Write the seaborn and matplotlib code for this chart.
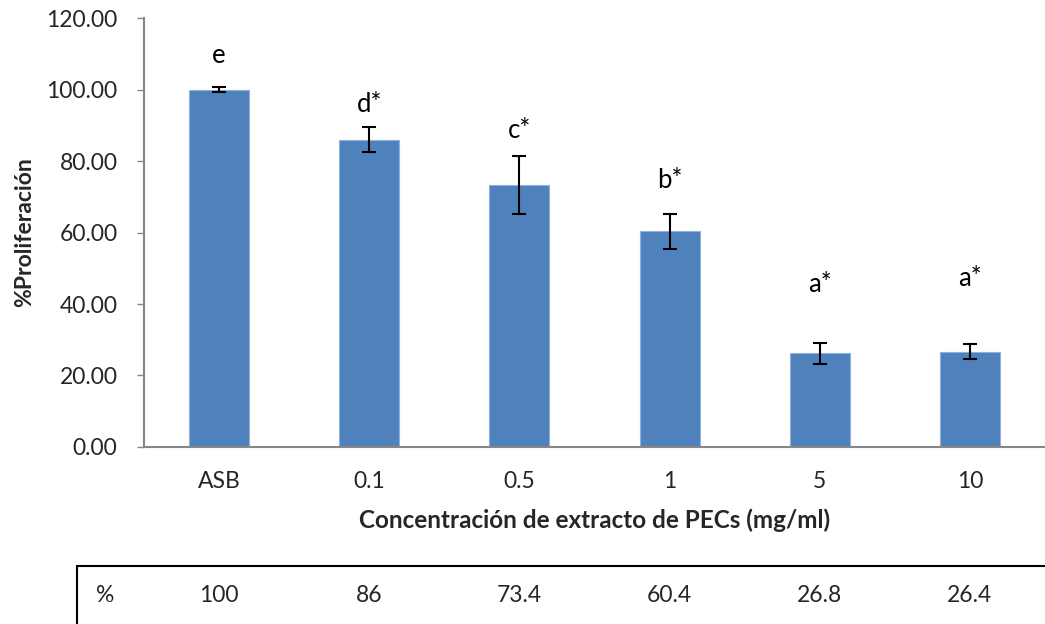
import matplotlib
matplotlib.use("Agg")
import matplotlib.pyplot as plt
import matplotlib.transforms as mtransforms
import seaborn as sns
import pandas as pd
import numpy as np

categories = ["ASB", "0.1", "0.5", "1", "5", "10"]
proliferation = [100.0, 85.9, 73.4, 60.4, 26.2, 26.7]
errors = [0.7, 3.5, 8.1, 4.9, 3.0, 2.1]
letters = ["e", "d*", "c*", "b*", "a*", "a*"]
letter_y = [109.6, 95.7, 88.6, 74.6, 45.5, 47.0]
table_values = ["100", "86", "73.4", "60.4", "26.8", "26.4"]
yticks = [0, 20, 40, 60, 80, 100, 120]

sns.set_theme(style="white")
plt.rcParams['font.family'] = ['Lato', 'DejaVu Sans']

df = pd.DataFrame({"cat": categories, "val": proliferation})

fig = plt.figure(figsize=(10.45, 6.24), dpi=100)
ax = fig.add_axes([0.1378, 0.2837, 0.8622, 0.6873])

sns.barplot(data=df, x="cat", y="val", color="#4F81BD", saturation=1,
            width=0.4, ax=ax, errorbar=None, edgecolor="#8FB0D8", linewidth=0.8)
ax.errorbar(np.arange(len(categories)), proliferation, yerr=errors, fmt="none",
            ecolor="black", elinewidth=1.5, capsize=5, capthick=1.5, zorder=5)

for i, (lab, ly) in enumerate(zip(letters, letter_y)):
    ax.text(i, ly, lab, ha="center", va="center", fontsize=18.5, color="black")

ax.set_ylim(0, 120)
ax.set_xlim(-0.5, len(categories) - 0.5)
ax.set_yticks(yticks)
ax.set_yticklabels([f"{v:.2f}" for v in yticks], fontsize=16.5)
ax.tick_params(axis="x", labelsize=16.5, length=0, pad=17)
ax.tick_params(axis="y", left=True, length=5, width=1, color="#868686", pad=14)
for s in ["top", "right"]:
    ax.spines[s].set_visible(False)
for s in ["left", "bottom"]:
    ax.spines[s].set_color("#868686")
    ax.spines[s].set_linewidth(1.5)
ax.set_xlabel("Concentración de extracto de PECs (mg/ml)", fontsize=17.5,
              fontweight="bold", labelpad=12)
ax.set_ylabel("%Proliferación", fontsize=16.5, fontweight="bold", labelpad=8)

# data table below chart
trans = mtransforms.blended_transform_factory(ax.transData, fig.transFigure)
top_y = 1 - 566 / 624
fig.add_artist(plt.Line2D([77 / 1045, 1.0], [top_y, top_y], color="black", lw=1.5,
                          transform=fig.transFigure))
fig.add_artist(plt.Line2D([77 / 1045, 77 / 1045], [top_y, 0.0], color="black", lw=1.5,
                          transform=fig.transFigure))
row_y = 1 - 596 / 624
fig.text(105 / 1045, row_y, "%", ha="center", va="center", fontsize=16.5)
for i, tv in enumerate(table_values):
    ax.text(i, row_y, tv, transform=trans, ha="center", va="center", fontsize=16.5,
            clip_on=False)

fig.savefig("out.png", dpi=100)
